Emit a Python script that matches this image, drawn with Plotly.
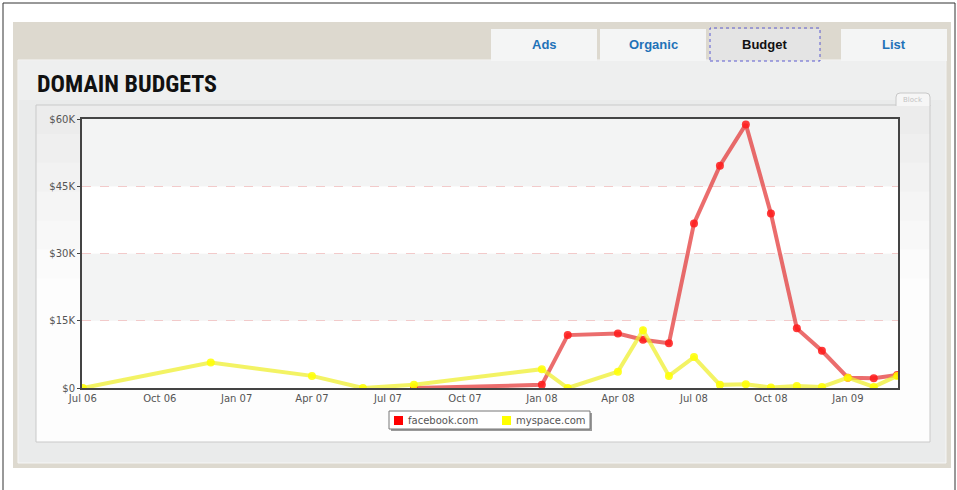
import plotly.graph_objects as go

W, H = 957, 490

# ---- data ----
myspace_dates = ["2006-07-01", "2006-12-01", "2007-04-01", "2007-06-01", "2007-08-01",
                 "2008-01-01", "2008-02-01", "2008-04-01", "2008-05-01", "2008-06-01",
                 "2008-07-01", "2008-08-01", "2008-09-01", "2008-10-01", "2008-11-01",
                 "2008-12-01", "2009-01-01", "2009-02-01", "2009-03-01"]
myspace_values = [0, 5670, 2700, 0, 700, 4200, 0, 3650, 12900, 2700,
                  6900, 700, 850, 100, 450, 250, 2300, 250, 2700]

facebook_dates = ["2007-08-01", "2008-01-01", "2008-02-01", "2008-04-01", "2008-05-01",
                  "2008-06-01", "2008-07-01", "2008-08-01", "2008-09-01", "2008-10-01",
                  "2008-11-01", "2008-12-01", "2009-01-01", "2009-02-01", "2009-03-01"]
facebook_values = [0, 700, 11800, 12150, 10750, 10000, 36700, 49600, 58800, 38900,
                   13300, 8300, 2300, 2200, 2900]

x_tick_vals = ["2006-07-01", "2006-10-01", "2007-01-01", "2007-04-01", "2007-07-01",
               "2007-10-01", "2008-01-01", "2008-04-01", "2008-07-01", "2008-10-01",
               "2009-01-01"]
x_tick_text = ["Jul 06", "Oct 06", "Jan 07", "Apr 07", "Jul 07", "Oct 07", "Jan 08",
               "Apr 08", "Jul 08", "Oct 08", "Jan 09"]
y_tick_vals = [0, 15000, 30000, 45000, 60000]
y_tick_text = ["$0", "$15K", "$30K", "$45K", "$60K"]

series_names = ["facebook.com", "myspace.com"]
series_swatch = ["#ff0000", "#ffff00"]
tabs = ["Ads", "Organic", "Budget", "List"]
title_text = "DOMAIN BUDGETS"


def px(x):
    return x / W


def py(y):
    return 1 - y / H


def rect(x0, y0, x1, y1, fill=None, line=None, lw=1, dash=None, layer="below"):
    d = dict(type="rect", xref="paper", yref="paper",
             x0=px(x0), x1=px(x1), y0=py(y1), y1=py(y0), layer=layer,
             fillcolor=fill if fill else "rgba(0,0,0,0)",
             line=dict(color=line if line else "rgba(0,0,0,0)", width=lw if line else 0))
    if dash:
        d["line"]["dash"] = dash
    return d


shapes = []
shapes.append(rect(3, 3, 955, 500, line="#333333", lw=1))
shapes.append(rect(13, 22, 951, 468, fill="#ddd9cf"))
shapes.append(rect(18, 60, 946, 463, fill="#eaebeb", line="#f6f6f6", lw=1))
shapes.append(rect(19, 61, 945, 100, fill="#eeefef"))
steps = ["#ececec", "#efefef", "#f2f2f2", "#f5f5f5", "#f8f8f8", "#fbfbfb", "#fdfdfd"]
top, bot = 105, 442
n = len(steps)
for i, c in enumerate(steps):
    y0 = top + (bot - top) * i / n * 0.6
    shapes.append(rect(36, y0, 930, bot, fill=c))
shapes.append(rect(36, 105, 930, 442, line="#c9c9c9", lw=1))

tab_boxes = [(491, 597), (600, 706), (709, 820), (841, 947)]
for (x0, x1), t in zip(tab_boxes, tabs):
    fill = "#e4e4e4" if t == "Budget" else "#f4f5f5"
    shapes.append(rect(x0, 29, x1, 61, fill=fill))
shapes.append(rect(710, 28, 820, 61, line="#5a5ad0", lw=1, dash="dot", layer="above"))

shapes.append(dict(type="path", xref="paper", yref="paper", layer="below",
                   path=f"M {px(896)},{py(106)} L {px(896)},{py(97)} Q {px(896)},{py(93)} {px(900)},{py(93)} "
                        f"L {px(926)},{py(93)} Q {px(930)},{py(93)} {px(930)},{py(97)} L {px(930)},{py(106)}",
                   fillcolor="#f6f6f6", line=dict(color="#c8c8c8", width=1)))

band_colors = ["#ffffff", "#f3f4f4", "#ffffff", "#f3f4f4"]
for i, c in enumerate(band_colors):
    shapes.append(dict(type="rect", xref="x domain", yref="y", x0=0, x1=1,
                       y0=y_tick_vals[i], y1=y_tick_vals[i + 1], fillcolor=c,
                       line=dict(width=0), layer="below"))

# legend box (shadow + box + swatches)
shapes.append(rect(391, 413, 592, 431, fill="#9a9a9a", layer="above"))
shapes.append(rect(389, 411, 590, 429, fill="#ffffff", line="#777777", lw=1, layer="above"))
legend_x = [394, 502]
for lx, col in zip(legend_x, series_swatch):
    shapes.append(rect(lx, 416, lx + 9, 425, fill=col, layer="above"))

annotations = []
for lx, name in zip(legend_x, series_names):
    annotations.append(dict(xref="paper", yref="paper", x=px(lx + 12), y=py(420.5),
                            text=name, showarrow=False, xanchor="left", yanchor="middle",
                            font=dict(family="DejaVu Sans", size=10, color="#555555")))
for (x0, x1), t in zip(tab_boxes, tabs):
    annotations.append(dict(xref="paper", yref="paper", x=px((x0 + x1) / 2), y=py(45),
                            text=f"<b>{t}</b>", showarrow=False, xanchor="center", yanchor="middle",
                            font=dict(family="Liberation Sans, Arial", size=13,
                                      color="#111111" if t == "Budget" else "#1f72b8")))
annotations.append(dict(xref="paper", yref="paper", x=px(35), y=py(84),
                        text=f"<b>{title_text}</b>", showarrow=False, xanchor="left", yanchor="middle",
                        font=dict(family="Roboto Condensed", size=24, color="#111111")))
annotations.append(dict(xref="paper", yref="paper", x=px(913), y=py(99.5),
                        text="Block", showarrow=False, xanchor="center", yanchor="middle",
                        font=dict(family="DejaVu Sans", size=7, color="#c4c4c4")))

fig = go.Figure()

fig.add_trace(go.Scatter(
    x=facebook_dates, y=facebook_values, mode="lines+markers", name=series_names[0],
    line=dict(color="rgba(226,40,40,0.68)", width=4),
    marker=dict(color="rgba(255,25,25,0.85)", size=8)))
fig.add_trace(go.Scatter(
    x=myspace_dates, y=myspace_values, mode="lines+markers", name=series_names[1],
    line=dict(color="rgba(238,238,40,0.72)", width=4),
    marker=dict(color="rgba(255,255,0,0.85)", size=8)))

fig.update_layout(
    width=W, height=H,
    margin=dict(l=0, r=0, t=0, b=0, autoexpand=False),
    paper_bgcolor="#ffffff",
    plot_bgcolor="rgba(0,0,0,0)",
    shapes=shapes,
    annotations=annotations,
    showlegend=False,
    xaxis=dict(domain=[px(82), px(898)], range=["2006-06-30", "2009-03-02"],
               tickvals=x_tick_vals, ticktext=x_tick_text, showgrid=False, automargin=False,
               showline=True, linecolor="#444444", linewidth=2, mirror=True,
               ticks="", tickfont=dict(family="DejaVu Sans", size=10, color="#555555"),
               zeroline=False),
    yaxis=dict(domain=[py(388), py(119)], range=[0, 60000], automargin=False,
               tickvals=y_tick_vals, ticktext=y_tick_text,
               showgrid=True, gridcolor="#f2caca", griddash="dash", gridwidth=1,
               showline=True, linecolor="#444444", linewidth=2, mirror=True,
               ticks="outside", ticklen=3, tickcolor="#444444",
               tickfont=dict(family="DejaVu Sans", size=10, color="#555555"),
               zeroline=False),
    hovermode=False,
)

fig.write_html("out.html", config={"responsive": False, "displayModeBar": False},
               post_script="document.body.style.margin='0';document.body.style.overflow='hidden';")
